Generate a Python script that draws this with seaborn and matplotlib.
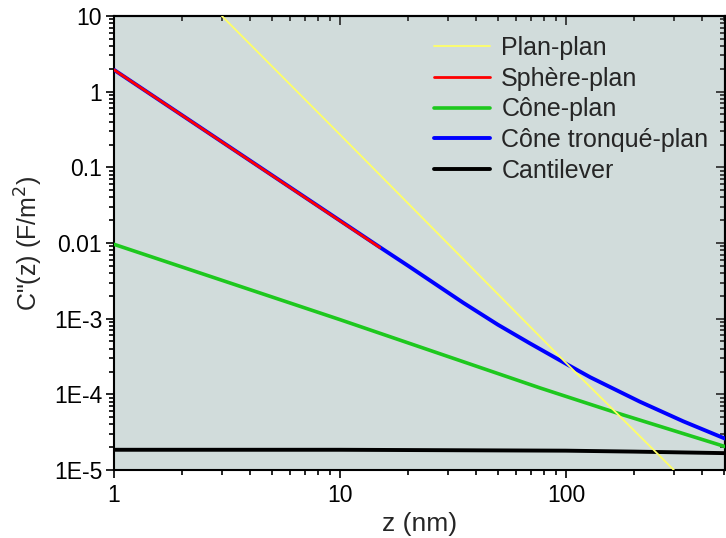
import matplotlib

matplotlib.use("Agg")
import matplotlib.pyplot as plt
import pandas as pd
import seaborn as sns
from matplotlib.ticker import LogLocator, NullFormatter

# values (z in nm, C'' in F/m^2)
plan_z = [3, 10, 100, 164, 300]
plan_c = [10, 0.27, 2.6e-4, 6.0e-5, 1.0e-5]

sphere_z = [1, 5, 15]
sphere_c = [1.94, 0.078, 8.7e-3]

cone_z = [1, 10, 77, 164, 505]
cone_c = [9.6e-3, 9.7e-4, 1.21e-4, 5.8e-5, 2.04e-5]

trunc_z = [1, 15, 20, 25, 35, 50, 69, 102, 128, 212, 330, 505]
trunc_c = [1.94, 8.8e-3, 5.0e-3, 3.2e-3, 1.63e-3, 8.3e-4, 4.74e-4, 2.45e-4, 1.68e-4, 8.0e-5, 4.4e-5, 2.6e-5]

cant_z = [1, 10, 100, 200, 505]
cant_c = [1.85e-5, 1.85e-5, 1.8e-5, 1.75e-5, 1.67e-5]

labels = ["Plan-plan", "Sphère-plan", "Cône-plan", "Cône tronqué-plan", "Cantilever"]
colors = ["#ffff66", "#ff0000", "#1ec81e", "#0000ff", "#000000"]
widths = [1.3, 2.0, 2.6, 2.8, 2.8]
zorders = [6, 5, 3, 4, 2]
series = [(plan_z, plan_c), (sphere_z, sphere_c), (cone_z, cone_c), (trunc_z, trunc_c), (cant_z, cant_c)]

y_ticks = [1e-5, 1e-4, 1e-3, 1e-2, 1e-1, 1, 10]
y_ticklabels = ["1E-5", "1E-4", "1E-3", "0.01", "0.1", "1", "10"]
x_ticks = [1, 10, 100]
x_ticklabels = ["1", "10", "100"]

sns.set_style("ticks")
plt.rcParams["font.family"] = ["Liberation Sans", "DejaVu Sans"]

fig = plt.figure(figsize=(7.26, 5.38), dpi=100)
ax = fig.add_axes([0.157, 0.1264, 0.8416, 0.844])
ax.set_facecolor("#d1dcdb")

for (z, c), lab, col, lw, zo in zip(series, labels, colors, widths, zorders):
    df = pd.DataFrame({"z": z, "c": c})
    sns.lineplot(data=df, x="z", y="c", ax=ax, color=col, lw=lw, label=lab,
                 estimator=None, sort=False, zorder=zo)

ax.set(xscale="log", yscale="log")
ax.set_xlim(1, 505)
ax.set_ylim(1e-5, 10)
ax.set_xticks(x_ticks, x_ticklabels)
ax.set_yticks(y_ticks, y_ticklabels)


def log_minor(axis):
    axis.set_minor_locator(LogLocator(base=10, subs=range(2, 10), numticks=20))
    axis.set_minor_formatter(NullFormatter())


log_minor(ax.xaxis)
log_minor(ax.yaxis)

ax.tick_params(which="both", direction="out", width=1.2, labelsize=16.5, colors="black")
ax.tick_params(which="major", length=6, pad=2.5)
ax.tick_params(which="minor", length=3.5)
ax.tick_params(axis="x", which="major", pad=4)

# inward ticks on top and right, no labels
secx = ax.secondary_xaxis("top")
secx.set_xticks(x_ticks)
log_minor(secx.xaxis)
secx.tick_params(which="both", direction="in", width=1.2, labeltop=False)
secx.tick_params(which="major", length=6.5)
secx.tick_params(which="minor", length=3.5)
secy = ax.secondary_yaxis("right")
secy.set_yticks(y_ticks)
log_minor(secy.yaxis)
secy.tick_params(which="both", direction="in", width=1.2, labelright=False)
secy.tick_params(which="major", length=6.5)
secy.tick_params(which="minor", length=3.5)

for a in (ax, secx, secy):
    for s in a.spines.values():
        s.set_linewidth(1.5)
        s.set_color("black")

ax.set_xlabel("z (nm)", fontsize=19, labelpad=4)
ax.set_ylabel('C"(z) (F/m$^2$)', fontsize=18, labelpad=6.5)

ax.legend(loc="upper left", bbox_to_anchor=(0.507, 0.978), frameon=False, fontsize=18,
          handlelength=2.25, handletextpad=0.45, labelspacing=0.27, borderaxespad=0)

fig.savefig("out.png", dpi=100)
